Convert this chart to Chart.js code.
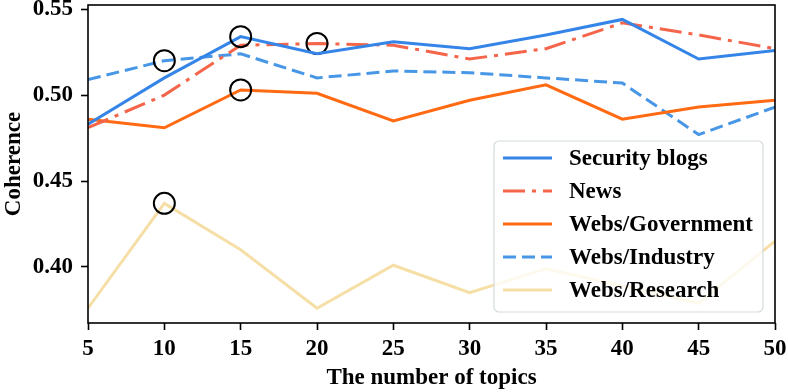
<!DOCTYPE html>
<html>
<head>
<meta charset="utf-8">
<script src="https://cdn.jsdelivr.net/npm/chart.js@4.4.0/dist/chart.umd.min.js"></script>
<style>
    html, body { margin: 0; padding: 0; background: #ffffff; }
    #wrap { width: 788px; height: 392px; }
</style>
</head>
<body>
<div id="wrap"><canvas id="coherenceChart" width="788" height="392"></canvas></div>
<script>
// =========================
// Coherence vs. number of topics
// =========================

const topics = [5, 10, 15, 20, 25, 30, 35, 40, 45, 50];
const securityBlogs = [0.483, 0.510, 0.534, 0.524, 0.531, 0.527, 0.535, 0.544, 0.521, 0.526];
const news = [0.481, 0.500, 0.529, 0.530, 0.529, 0.521, 0.527, 0.542, 0.535, 0.527];
const websGovernment = [0.486, 0.481, 0.503, 0.501, 0.485, 0.497, 0.506, 0.486, 0.493, 0.497];
const websIndustry = [0.509, 0.520, 0.524, 0.510, 0.514, 0.513, 0.510, 0.507, 0.477, 0.493];
const websResearch = [0.376, 0.437, 0.410, 0.376, 0.401, 0.385, 0.399, 0.389, 0.379, 0.415];

// topic count that is circled on each series
const circledTopics = [15, 20, 15, 10, 10];

const seriesNames = ['Security blogs', 'News', 'Webs/Government', 'Webs/Industry', 'Webs/Research'];
const seriesValues = [securityBlogs, news, websGovernment, websIndustry, websResearch];
const yTicks = [0.40, 0.45, 0.50, 0.55];

const FONT = "'Liberation Serif', 'Times New Roman', serif";
const FONT_SIZE = 23;

const styles = [
    { color: '#3585e8', dash: [] },
    { color: '#f5654a', dash: [22, 7, 4, 7] },
    { color: '#ff6a12', dash: [] },
    { color: '#4797e6', dash: [13, 6] },
    { color: '#f6dfa6', dash: [] }
];

const datasets = seriesNames.map((name, i) => {
    const hi = topics.indexOf(circledTopics[i]);
    return {
        label: name,
        data: topics.map((t, j) => ({ x: t, y: seriesValues[i][j] })),
        borderColor: styles[i].color,
        borderDash: styles[i].dash,
        borderWidth: 3,
        fill: false,
        tension: 0,
        pointRadius: seriesValues[i].map((v, j) => j === hi ? 10.5 : 0),
        pointBorderColor: '#000000',
        pointBackgroundColor: 'rgba(0,0,0,0)',
        pointBorderWidth: 2,
        pointHoverRadius: 0
    };
});

// Frame round the plot area (all four spines)
const framePlugin = {
    id: 'frame',
    afterDatasetsDraw(chart) {
        const { ctx, chartArea: a } = chart;
        ctx.save();
        ctx.strokeStyle = '#000000';
        ctx.lineWidth = 1.6;
        ctx.strokeRect(a.left, a.top, a.right - a.left, a.bottom - a.top);
        ctx.restore();
    }
};

// Legend inside the plot, lower right
const insideLegend = {
    id: 'insideLegend',
    afterDraw(chart) {
        const { ctx, chartArea: a } = chart;
        ctx.save();
        ctx.font = `bold ${FONT_SIZE}px ${FONT}`;
        const textW = Math.max(...seriesNames.map(n => ctx.measureText(n).width));
        const handle = 49, gap = 17, padL = 9, padR = 10, rowH = 33;
        const w = padL + handle + gap + textW + padR;
        const h = 171;
        const right = a.right - 12, bottom = a.bottom - 11;
        const left = right - w, top = bottom - h;

        ctx.beginPath();
        ctx.roundRect(left, top, w, h, 5);
        ctx.fillStyle = 'rgba(255,255,255,0.8)';
        ctx.fill();
        ctx.strokeStyle = '#d5dcdc';
        ctx.lineWidth = 1.2;
        ctx.stroke();

        chart.data.datasets.forEach((ds, i) => {
            const y = top + 17 + i * rowH;
            ctx.beginPath();
            ctx.setLineDash(ds.borderDash);
            ctx.strokeStyle = ds.borderColor;
            ctx.lineWidth = 3;
            ctx.moveTo(left + padL, y);
            ctx.lineTo(left + padL + handle, y);
            ctx.stroke();
            ctx.setLineDash([]);
            ctx.fillStyle = '#000000';
            ctx.textBaseline = 'middle';
            ctx.fillText(ds.label, left + padL + handle + gap, y + 1);
        });
        ctx.restore();
    }
};

const ctx = document.getElementById('coherenceChart').getContext('2d');

new Chart(ctx, {
    type: 'line',
    data: { datasets: datasets },
    options: {
        responsive: false,
        animation: false,
        events: [],
        layout: { padding: { top: 5, right: 13, left: 0, bottom: 0 } },
        plugins: {
            legend: { display: false },
            tooltip: { enabled: false }
        },
        scales: {
            x: {
                type: 'linear',
                min: 5,
                max: 50,
                afterFit: (scale) => {
                    scale.height = 69;
                    scale.paddingLeft = 0;
                    scale.paddingRight = 0;
                },
                ticks: {
                    stepSize: 5,
                    color: '#000000',
                    padding: 5,
                    font: { family: FONT, size: FONT_SIZE, weight: 'bold' }
                },
                grid: { drawOnChartArea: false, drawTicks: true, tickLength: 7, tickWidth: 1.6, color: '#000000' },
                border: { display: false },
                title: {
                    display: true,
                    text: 'The number of topics',
                    color: '#000000',
                    padding: { top: 0, bottom: 0 },
                    font: { family: FONT, size: FONT_SIZE, weight: 'bold' }
                }
            },
            y: {
                min: 0.3674,
                max: 0.5524,
                afterFit: (scale) => {
                    scale.width = 88;
                    scale.paddingTop = 0;
                    scale.paddingBottom = 0;
                },
                afterBuildTicks: (scale) => { scale.ticks = yTicks.map(v => ({ value: v })); },
                ticks: {
                    color: '#000000',
                    padding: 8,
                    font: { family: FONT, size: FONT_SIZE, weight: 'bold' },
                    callback: (v) => Number(v).toFixed(2)
                },
                grid: { drawOnChartArea: false, drawTicks: true, tickLength: 7, tickWidth: 1.6, color: '#000000' },
                border: { display: false },
                title: {
                    display: true,
                    text: 'Coherence',
                    color: '#000000',
                    padding: { top: 0, bottom: 0 },
                    font: { family: FONT, size: FONT_SIZE, weight: 'bold' }
                }
            }
        }
    },
    plugins: [framePlugin, insideLegend]
});
</script>
</body>
</html>
